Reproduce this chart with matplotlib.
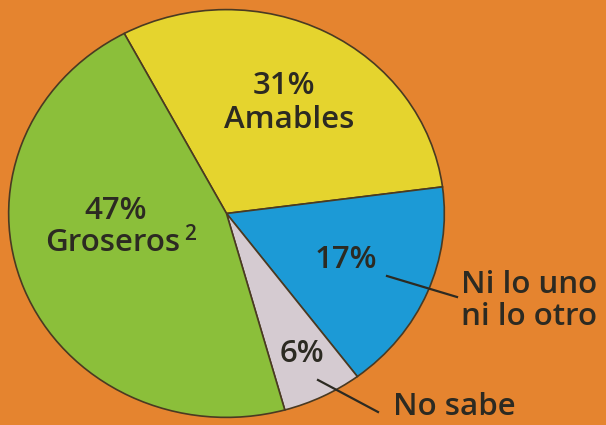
import matplotlib.pyplot as plt

# data
labels = ['Amables', 'Ni lo uno\nni lo otro', 'No sabe', 'Groseros']
values = [31, 17, 6, 47]
colors = ['#e5d42e', '#1c9ad6', '#d5cbd1', '#8bbf3a']
bg = '#e5842f'
ink = '#2c2a22'

W, H = 606, 425
fig = plt.figure(figsize=(W / 100, H / 100), dpi=100, facecolor=bg)

# pie axes placed over the (slightly elliptical) pie area, in pixels
x0, x1, y0, y1 = 8, 445, 9, 418
ax = fig.add_axes([x0 / W, 1 - y1 / H, (x1 - x0) / W, (y1 - y0) / H])
ax.pie(values, colors=colors, startangle=118, counterclock=False,
       wedgeprops=dict(edgecolor='#4a3a22', linewidth=1.2))
ax.set_aspect('auto')
ax.set_xlim(-1.003, 1.003)
ax.set_ylim(-1.003, 1.003)
ax.axis('off')

# overlay for labels, pixel coordinates
ov = fig.add_axes([0, 0, 1, 1])
ov.set_xlim(0, W)
ov.set_ylim(H, 0)
ov.axis('off')

font = dict(family='Open Sans', weight='semibold', color=ink, fontsize=22.5)

ov.text(284, 86, '%d%%' % values[0], ha='center', va='center', **font)
ov.text(289, 120, labels[0], ha='center', va='center', **font)

ov.text(116, 211, '%d%%' % values[3], ha='center', va='center', **font)
ov.text(113, 243, labels[3], ha='center', va='center', **font)
ov.text(190, 234, '2', ha='center', va='center', family='Open Sans',
        weight='semibold', color=ink, fontsize=15)

ov.text(346, 260, '%d%%' % values[1], ha='center', va='center', **font)
ov.text(461, 301, labels[1], ha='left', va='center', linespacing=1.1, **font)
ov.plot([387, 457], [276, 297], color=ink, lw=1.6)

ov.text(302, 354, '%d%%' % values[2], ha='center', va='center', **font)
ov.text(393, 407, labels[2], ha='left', va='center', **font)
ov.plot([318, 378], [380, 412], color=ink, lw=1.6)

fig.savefig('out.png', dpi=100, facecolor=bg)
